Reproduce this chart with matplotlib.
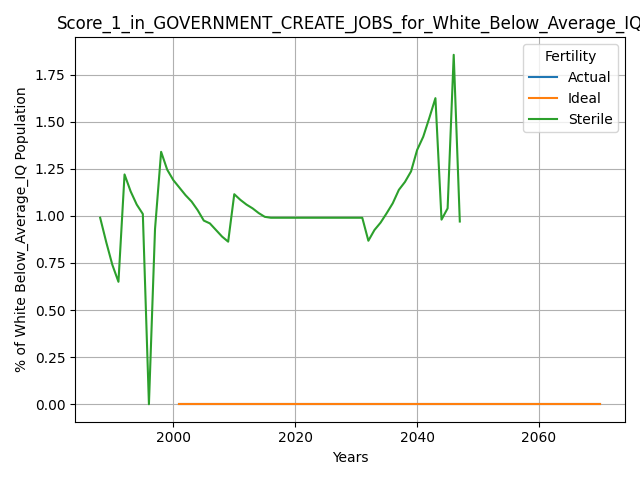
import matplotlib
matplotlib.use("Agg")
import matplotlib.pyplot as plt

TITLE = "Score_1_in_GOVERNMENT_CREATE_JOBS_for_White_Below_Average_IQ"

sterile_years = list(range(1988, 2048))
sterile_vals = [0.99, 0.86, 0.74, 0.65, 1.22, 1.13, 1.06, 1.01, 0.00, 0.93,
                1.34, 1.245, 1.19, 1.15, 1.11, 1.076, 1.03, 0.975, 0.96, 0.925,
                0.89, 0.863, 1.115, 1.085, 1.06, 1.04, 1.015, 0.995, 0.99, 0.99,
                0.99, 0.99, 0.99, 0.99, 0.99, 0.99, 0.99, 0.99, 0.99, 0.99,
                0.99, 0.99, 0.99, 0.99, 0.868, 0.925, 0.964, 1.014, 1.067, 1.138,
                1.18, 1.236, 1.35, 1.42, 1.52, 1.625, 0.98, 1.04, 1.855, 0.97]

ideal_years = list(range(2001, 2071))
ideal_vals = [0.0] * len(ideal_years)
actual_years = ideal_years
actual_vals = ideal_vals

fig, ax = plt.subplots(figsize=(6.4, 4.8), dpi=100)
ax.plot(actual_years, actual_vals, label="Actual")
ax.plot(ideal_years, ideal_vals, label="Ideal")
ax.plot(sterile_years, sterile_vals, label="Sterile")
ax.set_title(TITLE)
ax.set_xlabel("Years")
ax.set_ylabel("% of White Below_Average_IQ Population")
ax.grid(True)
ax.legend(title="Fertility", loc="upper right")
fig.tight_layout()
fig.savefig("out.png")
